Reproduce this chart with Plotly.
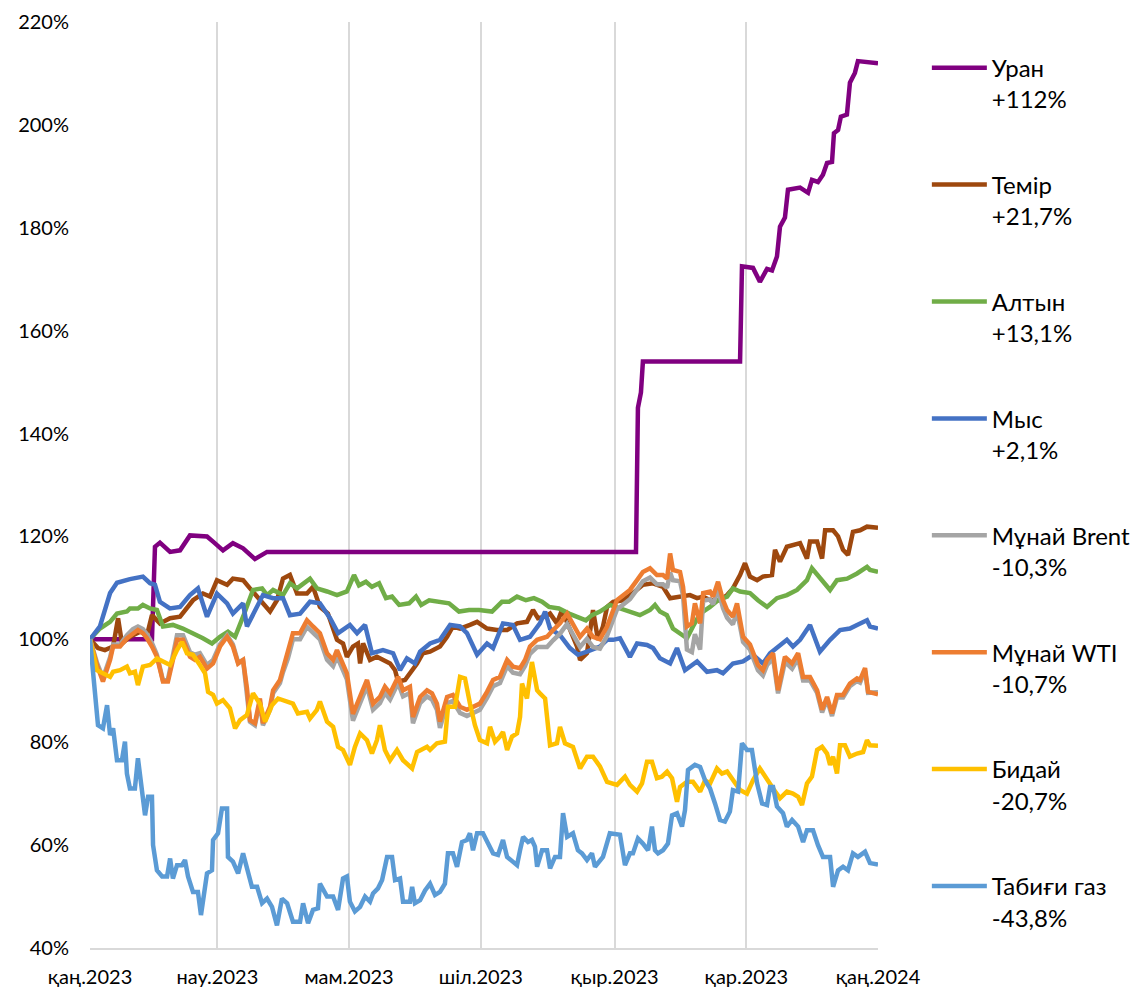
import pandas as pd
import plotly.graph_objects as go

# ---- data: (days since 2023-01-01, index %) ----
uranium = [(0, 100), (28.7, 100), (30.1, 118), (32.4, 118.8), (37.1, 117), (41.7, 117.3), (46.3, 120.2),
           (54.2, 120), (57.0, 119), (61.6, 117.3), (66.2, 118.7), (70.9, 117.7), (76.4, 115.6), (82.0, 117),
           (252.9, 117), (253.8, 145), (255.2, 148), (256.1, 154), (301.1, 154), (302.0, 172.5), (307.1, 172.2),
           (310.3, 169.5), (313.6, 172), (315.9, 171.7), (318.2, 174.4), (319.6, 180.2), (321.9, 182),
           (323.3, 187.4), (328.9, 187.8), (332.6, 186.8), (334.4, 189.3), (337.2, 188.9), (339.5, 190.3),
           (341.4, 192.6), (343.7, 192.8), (344.6, 198.4), (346.5, 199), (347.8, 201.6), (350.6, 202),
           (352.0, 208.2), (354.3, 210.1), (355.7, 212.4), (365.0, 212)]

iron = [(0, 100), (3.7, 98.3), (6.9, 97.9), (10.7, 98.6), (13.0, 104.1), (14.8, 99.2), (18.5, 100.5),
        (23.2, 101.5), (26.4, 100.8), (28.7, 104.7), (32.4, 103.1), (37.1, 104.1), (41.7, 104.4), (44.9, 106.3),
        (47.7, 107.6), (52.3, 108.9), (55.6, 108.3), (58.8, 111.5), (63.5, 110.6), (66.2, 111.8), (70.9, 111.5),
        (74.1, 109.9), (77.4, 108.3), (80.1, 107), (83.4, 105.4), (86.6, 107.6), (89.4, 111.8), (92.6, 112.5),
        (95.9, 108.9), (100.5, 108.9), (103.3, 110.2), (106.5, 106.3), (110.2, 105), (114.4, 99.9),
        (117.2, 99.2), (119.0, 96.6), (121.8, 98.6), (124.1, 99.2), (125.1, 95.3), (126.5, 99.2), (129.7, 96),
        (132.9, 96.6), (135.7, 96), (139.0, 95.3), (141.3, 94), (142.7, 91.8), (145.9, 92.1), (149.2, 94),
        (151.5, 95.3), (154.2, 97.3), (157.5, 97.6), (162.1, 98.6), (165.4, 100.5), (168.1, 102.5),
        (171.4, 102.1), (176.0, 102.8), (179.3, 103.4), (183.9, 102.1), (188.5, 101.8), (193.2, 101.8),
        (197.8, 103.1), (202.4, 103.4), (205.2, 105.7), (207.5, 104.1), (210.8, 104.4), (213.1, 105),
        (216.3, 103.1), (218.6, 105.7), (222.3, 102.1), (225.6, 98.6), (227.0, 96), (230.2, 97.3),
        (233.0, 105.7), (235.3, 99.9), (237.6, 102.5), (239.5, 106.3), (242.3, 107.3), (246.9, 107.6),
        (251.5, 109), (256.1, 110.6), (260.8, 110.9), (265.4, 110.2), (268.7, 108), (273.3, 108.3),
        (277.9, 108.6), (281.2, 108), (284.0, 108.3), (287.2, 107.6), (291.8, 107.6), (295.1, 108.6),
        (297.8, 109.9), (301.1, 112.5), (303.4, 114.8), (305.7, 112.2), (309.0, 111.5), (311.7, 112.2),
        (315.9, 112.5), (317.3, 117.4), (319.6, 115.1), (322.8, 118), (325.6, 118.3), (328.9, 118.7),
        (332.1, 115.7), (333.5, 119), (336.8, 119), (339.1, 115.7), (340.5, 121.2), (344.2, 121.2),
        (346.5, 120), (348.8, 117.4), (351.1, 116.4), (353.4, 120.9), (356.7, 121.2), (359.9, 121.9),
        (365.0, 121.7)]

gold = [(0, 100), (4.6, 102.1), (9.3, 103.4), (12.5, 105), (17.1, 105.4), (18.5, 106), (22.2, 106), (24.5, 106.7),
        (27.8, 106), (31, 105.7), (33.8, 102.5), (38.4, 102.8), (43, 102.1), (47.7, 101.2), (52.3, 100.2),
        (56.5, 99.2), (60.2, 100.5), (63.9, 101.5), (67.2, 100.5), (70.9, 104.4), (75.5, 109.6), (79.7, 109.9),
        (82, 108.6), (84.8, 109.6), (89.4, 108.6), (92.6, 110.9), (95.9, 109.9), (101.9, 111.8), (105.1, 109.9),
        (109.8, 109.3), (114.4, 108.6), (119, 109.3), (122.3, 112.5), (124.6, 110.5), (127.8, 111.2),
        (130.6, 110.2), (133.9, 110.9), (137.1, 108), (139.9, 108.3), (143.2, 106.7), (147.8, 107),
        (151, 108.3), (153.4, 106.7), (157.1, 107.6), (161.7, 107.3), (166.3, 107), (170.9, 105.4),
        (175.6, 105.7), (180.2, 105.7), (186.2, 105.4), (190.8, 107.3), (194.1, 107.3), (197.8, 108.3),
        (201.9, 107.6), (205.6, 108), (209.4, 107.3), (212.6, 106.3), (217.2, 106), (221.9, 105),
        (226.5, 104.1), (229.7, 103.7), (232.5, 104.7), (236.2, 105.4), (240.8, 106.7), (245.5, 106),
        (250.1, 105.4), (254.7, 104.7), (259.4, 105.7), (261.7, 106.7), (264, 105.4), (267.2, 104.7),
        (270, 102.1), (273.3, 101.2), (276.5, 100.2), (279.3, 102.5), (282.6, 105), (287.2, 106.3),
        (290.9, 107.6), (295.1, 108.3), (297.8, 109.9), (301.1, 109.3), (305.7, 109), (309.4, 107.6),
        (313.6, 106.3), (318.2, 108), (322.8, 108.6), (327.5, 109.6), (332.1, 111.5), (334.4, 113.8),
        (338.1, 111.8), (342.8, 109.6), (346, 111.5), (350.7, 111.8), (355.3, 112.8), (359.9, 114.1),
        (361.3, 113.5), (365, 113.1)]

copper = [(0, 100), (4.6, 102.5), (9.3, 109), (12.5, 111), (18.5, 111.7), (24.5, 112.2), (27.8, 110.9),
          (30.1, 110.6), (32.4, 107.3), (37, 106), (41.7, 106.3), (46.3, 108.6), (50, 109.9), (54.2, 104.4),
          (58.8, 108.9), (63.5, 107), (66.2, 105), (70.9, 107), (72.7, 102.5), (75.5, 104.7), (80.1, 108.6),
          (84.8, 108), (89.4, 108), (92.6, 104.7), (97.3, 105), (101.9, 107.3), (106.5, 107), (111.2, 104.1),
          (114.9, 101.2), (120.4, 102.8), (123.7, 101.2), (127.4, 102.8), (130.6, 97.3), (135.7, 97.9),
          (140.4, 97.3), (143.6, 94), (146.8, 96.3), (150.5, 95.3), (152.9, 97.6), (157.5, 99.2),
          (162.1, 99.9), (166.8, 102.8), (171.4, 102.5), (174.6, 101.2), (179.3, 97), (183.9, 99.2),
          (186.7, 98.3), (191.3, 103.1), (195.9, 102.8), (199.2, 99.9), (203.8, 100.5), (208.4, 103.1),
          (210.8, 105.4), (213.1, 102.1), (217.7, 100.8), (222.3, 98.3), (226, 97), (230.2, 97.6),
          (236.2, 98.6), (239.5, 99.9), (242.3, 99.9), (245.5, 100.2), (250.1, 96.6), (253.4, 99.2),
          (258, 98.9), (260.8, 98.3), (264, 96.3), (268.7, 95.3), (271.9, 98.3), (275.6, 94), (281.2, 95.7),
          (285.8, 93.7), (290.4, 94), (293.2, 93.4), (297.8, 95.3), (302.5, 95.7), (307.1, 97), (311.7, 95.3),
          (315, 97.3), (322.8, 99.9), (325.6, 98.6), (328.9, 99.9), (333.5, 102.8), (338.1, 97.6),
          (342.8, 99.9), (347.4, 101.8), (352, 102.1), (355.3, 102.8), (359.9, 103.7), (361.3, 102.5),
          (365, 102.1)]

brent = [(0, 100), (3.2, 95.5), (6.0, 92.5), (9.3, 96.5), (10.7, 99), (13.9, 99), (17.1, 100.8), (19.9, 102),
         (22.2, 102.5), (24.5, 102), (26.4, 101), (28.7, 99.3), (31.0, 97), (33.8, 92), (36.1, 92.2),
         (38.4, 96.8), (40.3, 100.8), (43.1, 100.8), (46.3, 97.5), (48.6, 97), (50.9, 97.3), (54.2, 95),
         (57.0, 96), (60.2, 99), (63.5, 100.8), (66.2, 99), (68.6, 95.5), (70.9, 96), (72.7, 90), (74.1, 84),
         (76.4, 83.3), (78.7, 87.8), (80.1, 83.3), (83.4, 86.3), (84.8, 89.5), (88.0, 91.5), (89.4, 93.6),
         (91.7, 96.3), (94.0, 100), (97.3, 100), (100.5, 102.4), (103.3, 101.3), (106.5, 100), (109.8, 96),
         (112.6, 94.8), (114.4, 96.7), (117.2, 94), (119.0, 92.2), (121.8, 84.2), (125.1, 87.5),
         (128.3, 90.9), (131.1, 86.3), (134.3, 87.6), (136.6, 89.6), (139.0, 88.3), (142.7, 91.5),
         (145.0, 88.9), (148.2, 89.6), (149.6, 83.7), (152.9, 87.6), (156.1, 88.9), (158.4, 88.3),
         (160.7, 86.3), (162.1, 82.8), (165.4, 87.6), (168.1, 88), (171.4, 85.7), (174.6, 85.1),
         (177.4, 85.7), (180.6, 86.3), (183.9, 88.6), (186.7, 90.9), (189.9, 91.5), (193.2, 94.8),
         (195.9, 93.5), (199.2, 93.2), (201.5, 94.8), (203.8, 97.2), (207.1, 98.5), (211.7, 98.5),
         (214.5, 99.8), (217.7, 101.1), (221.0, 103), (223.7, 101.1), (227.0, 98.5), (230.2, 100.1),
         (233.0, 98.5), (236.2, 98.2), (239.5, 100.7), (244.1, 105.8), (246.9, 106.8), (250.1, 107.8),
         (253.4, 109.7), (256.1, 111.3), (259.4, 112), (262.6, 110.7), (265.4, 110.7), (267.3, 110),
         (268.7, 113), (270.0, 111.5), (273.3, 111.3), (274.7, 108.5), (276.5, 98), (278.8, 97.5),
         (280.2, 101), (282.6, 98), (284.0, 107.5), (287.2, 107.8), (288.6, 106.8), (290.9, 109.7),
         (293.2, 106.1), (295.1, 104.2), (297.8, 102.9), (299.7, 105.5), (302.5, 99.5), (305.7, 98),
         (309.4, 94), (311.7, 93), (313.6, 95), (316.4, 96.3), (318.7, 89.5), (321.9, 95.6), (325.2, 94.3),
         (328.0, 96.3), (330.3, 92), (333.5, 92), (336.8, 89.6), (339.1, 85.8), (341.4, 88.3), (343.7, 85.1),
         (346.0, 88.7), (348.8, 88.7), (352.0, 90.9), (355.3, 91.9), (356.7, 91.6), (359.0, 93.9),
         (360.4, 89.6), (365.0, 89.7)]

wti = [(0, 100), (3.2, 95), (6.0, 91.8), (9.3, 96), (10.7, 98.6), (13.9, 98.6), (17.1, 100.2), (19.9, 101.2),
       (22.2, 101.8), (24.5, 101.2), (26.4, 100.2), (28.7, 98.6), (31.0, 96.6), (33.8, 91.8), (36.1, 91.8),
       (38.4, 96), (40.3, 99.9), (43.1, 99.9), (46.3, 96.6), (48.6, 96), (50.9, 96.6), (54.2, 94.3),
       (57.0, 95.3), (60.2, 98.6), (63.5, 100.5), (66.2, 98.6), (68.6, 95.3), (70.9, 96), (72.7, 90.5),
       (74.1, 84.3), (76.4, 83.7), (78.7, 88.5), (80.1, 83.7), (83.4, 86.9), (84.8, 90.1), (88.0, 92.1),
       (89.4, 94.4), (91.7, 97.3), (94.0, 101.2), (97.3, 101.2), (100.5, 103.7), (103.3, 102.5),
       (106.5, 101.2), (109.8, 97.3), (112.6, 96), (114.4, 97.9), (117.2, 95.3), (119.0, 93.4),
       (121.8, 85.5), (125.1, 88.8), (128.3, 92.1), (131.1, 87.5), (134.3, 88.8), (136.6, 90.8),
       (139.0, 89.5), (142.7, 92.7), (145.0, 90.1), (148.2, 90.8), (149.6, 84.9), (152.9, 88.8),
       (156.1, 90.1), (158.4, 89.5), (160.7, 87.5), (162.1, 84), (165.4, 88.8), (168.1, 89.2),
       (171.4, 86.9), (174.6, 86.3), (177.4, 86.9), (180.6, 87.5), (183.9, 89.8), (186.7, 92.1),
       (189.9, 92.7), (193.2, 96), (195.9, 94.7), (199.2, 94.4), (201.5, 96), (203.8, 98.6), (207.1, 99.9),
       (211.7, 100.5), (214.5, 101.8), (217.7, 103.1), (221.0, 105), (223.7, 103.1), (227.0, 100.5),
       (230.2, 102.1), (233.0, 100.5), (236.2, 100), (239.5, 102.5), (244.1, 107.6), (246.9, 108.6),
       (250.1, 109.6), (253.4, 111.5), (256.1, 113.1), (259.4, 113.8), (262.6, 112.5), (265.4, 112.5),
       (267.3, 111.8), (268.7, 116.7), (270.0, 113.5), (273.3, 113.1), (274.7, 110.2), (276.5, 102.5),
       (278.8, 103.1), (280.2, 107), (282.6, 103.1), (284.0, 109), (287.2, 109.3), (288.6, 108.3),
       (290.9, 111.2), (293.2, 107.6), (295.1, 105.7), (297.8, 104.4), (299.7, 107), (302.5, 100.5),
       (305.7, 99), (309.4, 95), (311.7, 94), (313.6, 96), (316.4, 97.3), (318.7, 90.1), (321.9, 96.6),
       (325.2, 95.3), (328.0, 97.3), (330.3, 92.7), (333.5, 92.7), (336.8, 90.1), (339.1, 86.3),
       (341.4, 88.8), (343.7, 85.6), (346.0, 89.2), (348.8, 89.2), (352.0, 91.4), (355.3, 92.4),
       (356.7, 92.1), (359.0, 94.4), (360.4, 89.8), (365.0, 89.3)]

wheat = [(0, 100), (3.2, 94), (6.0, 93.4), (9.3, 92.7), (10.7, 93.7), (13.9, 94), (17.1, 94.7), (18.5, 93.4),
         (20.8, 93.7), (22.2, 91.1), (24.5, 94.7), (27.8, 95), (31.0, 96.3), (33.8, 95.6), (37.1, 95),
         (40.3, 97.9), (42.6, 99.5), (44.9, 97.3), (47.7, 97), (50.9, 95), (53.3, 93.4), (54.7, 89.8),
         (57.0, 89.2), (58.8, 87.5), (61.6, 88.2), (64.8, 86.6), (67.2, 82.7), (69.5, 84.3), (72.7, 85.3),
         (75.5, 89.5), (78.7, 87.5), (81.1, 84), (84.3, 87.2), (87.1, 88.5), (91.3, 87.9), (94.0, 87.5),
         (96.3, 85.6), (100.5, 85.9), (101.9, 84.6), (105.1, 86.3), (106.5, 87.9), (109.8, 84), (112.6, 83),
         (114.9, 79.1), (117.2, 78.5), (120.4, 75.6), (122.7, 79.1), (125.1, 81.7), (128.3, 80.4),
         (130.6, 77.8), (132.9, 80.4), (134.3, 83.3), (136.6, 78.5), (139.0, 76.5), (142.2, 78.5),
         (145.0, 76.5), (149.2, 74.9), (151.5, 78.1), (156.1, 79.1), (157.5, 78.5), (160.7, 79.8),
         (164.4, 80.1), (165.8, 86.9), (169.1, 86.9), (171.4, 92.7), (173.7, 92.4), (176.0, 87.5),
         (178.3, 83.3), (180.6, 80.4), (183.9, 79.8), (185.3, 83), (187.6, 80.1), (189.9, 81.1), (191.3, 82),
         (193.2, 78.5), (195.5, 81.1), (197.8, 81.7), (199.2, 84.9), (200.1, 91.4), (202.4, 88.5),
         (204.7, 95.6), (207.1, 90.1), (208.4, 89.5), (210.8, 88.5), (213.1, 79.4), (216.3, 79.8),
         (217.7, 83), (220.0, 79.8), (223.7, 79.1), (227.0, 74.9), (230.2, 77.2), (233.0, 77.2),
         (236.2, 75.3), (239.5, 72.3), (244.1, 71.7), (247.8, 73.3), (250.1, 71.7), (253.4, 70.4),
         (255.7, 72), (258.0, 76.2), (260.3, 76.2), (262.6, 73), (264.9, 73.3), (267.3, 74.3), (269.6, 73),
         (271.9, 68.4), (273.3, 71.3), (276.5, 72.3), (279.3, 72.3), (282.6, 70.4), (284.9, 72.6),
         (287.2, 72), (290.4, 74.9), (292.7, 73.9), (295.1, 74.3), (297.8, 72.6), (301.1, 70.7),
         (304.3, 70), (307.1, 72.6), (310.3, 74.9), (313.6, 72.6), (316.4, 71), (319.6, 69.1),
         (322.8, 70.4), (325.6, 70), (328.0, 69.4), (329.8, 67.8), (332.1, 72), (334.4, 73.3),
         (336.8, 78.5), (339.1, 79.1), (341.4, 77.8), (342.8, 75.6), (344.2, 77.2), (346.0, 73.9),
         (347.4, 79.4), (349.7, 79.4), (352.0, 77.2), (355.3, 77.8), (358.1, 78.1), (359.9, 80.4),
         (361.3, 79.4), (365.0, 79.3)]

gas = [(0, 100), (1.4, 93.4), (2.3, 89.2), (3.7, 83.3), (6.0, 82.7), (7.9, 87.2), (9.3, 81.4), (10.7, 82.7),
       (12.5, 76.5), (14.8, 76.5), (16.2, 80.1), (17.1, 73.9), (18.5, 71), (20.8, 71), (22.2, 76.9), (24.1, 70),
       (25.5, 65.8), (26.9, 69.4), (28.7, 69.4), (29.2, 60), (31.0, 55.1), (33.4, 53.9), (35.7, 53.9),
       (37.1, 57.4), (38.4, 53.5), (40.3, 56.1), (42.6, 56.1), (44.0, 57.1), (45.4, 53.9), (47.7, 50.9),
       (50.0, 50.9), (51.4, 46.4), (54.2, 54.5), (56.5, 55.1), (57.0, 61), (59.3, 62.3), (61.1, 67.1),
       (63.5, 67.1), (63.9, 57.7), (66.2, 56.8), (68.6, 54.5), (70.9, 58.4), (73.2, 54.5), (75.0, 51.9),
       (77.4, 51.9), (79.7, 48.7), (82.0, 49.6), (84.3, 48), (86.6, 44.4), (88.9, 49.6), (91.3, 48.7),
       (92.6, 46.7), (94.0, 45.1), (97.3, 45.1), (98.7, 48.7), (101.0, 44.8), (103.3, 47.4), (105.6, 47.7),
       (106.5, 52.5), (109.8, 50), (112.6, 50), (114.9, 47.4), (117.2, 53.5), (119.0, 53.9), (120.4, 49),
       (122.7, 47.1), (125.1, 48), (127.4, 50), (129.7, 49), (131.1, 50.6), (133.4, 51.6), (135.3, 53.2),
       (137.6, 57.7), (139.9, 57.7), (141.3, 53.2), (143.6, 53.5), (145.0, 49), (148.2, 49), (149.2, 51.9),
       (150.5, 48.7), (152.9, 49.3), (155.2, 51.2), (157.5, 52.5), (159.8, 50.3), (162.1, 50.9),
       (164.4, 52.5), (165.8, 58.4), (168.1, 58.4), (170.0, 55.8), (172.3, 60.6), (174.6, 61), (176.0, 62.3),
       (177.4, 59), (179.3, 62.3), (182.0, 62.3), (184.4, 60.3), (186.7, 58.4), (189.0, 58.1), (191.3, 61),
       (193.2, 57.7), (195.9, 56.8), (197.8, 56.1), (199.2, 59), (200.6, 61.6), (202.9, 60.6), (204.7, 61),
       (206.1, 59.7), (207.1, 55.8), (209.4, 59), (211.7, 59), (213.1, 55.5), (215.4, 57.7), (217.7, 57.7),
       (219.1, 66.2), (221.0, 61.6), (223.7, 62.3), (226.0, 59), (227.9, 58.4), (230.2, 57.1), (232.5, 58.4),
       (233.9, 55.8), (236.2, 56.8), (237.6, 57.7), (240.8, 62.3), (245.5, 62), (247.8, 56.1), (250.1, 58.4),
       (251.5, 58.4), (253.8, 61.3), (256.1, 60.3), (258.5, 59), (260.3, 63.6), (261.7, 59), (263.1, 58.4),
       (265.4, 59), (267.7, 60.3), (269.6, 65.8), (271.9, 66.2), (274.2, 63.6), (275.6, 66.8), (277.0, 74.6),
       (280.2, 75.6), (282.6, 75.2), (284.9, 72.6), (287.2, 71), (289.5, 68.1), (291.8, 64.9), (294.1, 64.6),
       (296.4, 66.5), (297.8, 70.7), (300.2, 70.4), (302.0, 79.8), (304.3, 78.5), (306.6, 78.5), (309.0, 72),
       (311.3, 68.1), (313.6, 67.8), (315.0, 71.3), (316.4, 71.3), (318.2, 67.5), (321.0, 66.2),
       (322.8, 63.6), (325.2, 64.9), (328.0, 63.6), (330.3, 60.6), (332.1, 62.9), (334.9, 62.9), (337.2, 60),
       (339.5, 57.7), (342.8, 57.7), (344.2, 51.9), (346.5, 55.1), (348.8, 55.8), (351.1, 55.1),
       (353.4, 58.4), (355.7, 57.7), (359.0, 58.7), (361.3, 56.5), (365.0, 56.2)]

series_names = ["Уран", "Темір", "Алтын", "Мыс", "Мұнай Brent", "Мұнай WTI", "Бидай", "Табиғи газ"]
series_changes = ["+112%", "+21,7%", "+13,1%", "+2,1%", "-10,3%", "-10,7%", "-20,7%", "-43,8%"]
series_data = [uranium, iron, gold, copper, brent, wti, wheat, gas]

tick_dates = ["2023-01-01", "2023-03-01", "2023-05-01", "2023-07-01", "2023-09-01", "2023-11-01", "2024-01-01"]
tick_labels = ["қаң.2023", "нау.2023", "мам.2023", "шіл.2023", "қыр.2023", "қар.2023", "қаң.2024"]
y_ticks = [40, 60, 80, 100, 120, 140, 160, 180, 200, 220]
y_tick_labels = ["40%", "60%", "80%", "100%", "120%", "140%", "160%", "180%", "200%", "220%"]

# ---- styles ----
colors = ["#800080", "#9E480E", "#70AD47", "#4472C4", "#A5A5A5", "#ED7D31", "#FFC000", "#5B9BD5"]
FONT = "Lato, 'Open Sans', sans-serif"
start = pd.Timestamp("2023-01-01")

fig = go.Figure()
for i, (name, chg, pts) in enumerate(zip(series_names, series_changes, series_data)):
    days = [p[0] for p in pts]
    vals = [p[1] for p in pts]
    xs = start + pd.to_timedelta(days, unit="D")
    fig.add_trace(go.Scatter(
        x=xs, y=vals, mode="lines", name=f"{name}<br>{chg}",
        legendgroup=f"g{i}",
        line=dict(color=colors[i], width=4.5, shape="linear"),
        hoverinfo="skip",
    ))

# the page body adds an 8px offset, so the figure is 8px smaller than the window
fig.update_layout(
    width=1132, height=982, autosize=False,
    margin=dict(l=82, r=262, t=14, b=42, autoexpand=False),
    paper_bgcolor="white", plot_bgcolor="white",
    font=dict(family=FONT, color="#000000"),
    showlegend=True,
    legend=dict(
        x=1.062, xanchor="left", y=0.9745, yanchor="top",
        valign="top", font=dict(family=FONT, size=24, color="#000000"),
        itemwidth=55, tracegroupgap=51.5, bgcolor="rgba(0,0,0,0)",
        traceorder="grouped",
    ),
    xaxis=dict(
        type="date", range=["2023-01-01", "2024-01-01"], automargin=False,
        tickmode="array", tickvals=tick_dates, ticktext=tick_labels,
        showgrid=True, gridcolor="#D9D9D9", gridwidth=2,
        showline=True, linecolor="#D9D9D9", linewidth=2,
        zeroline=False, ticks="", ticklabelstandoff=10,
        tickfont=dict(family=FONT, size=20, color="#000000"),
    ),
    yaxis=dict(
        range=[40, 220], automargin=False,
        tickmode="array", tickvals=y_ticks, ticktext=y_tick_labels,
        showgrid=False, zeroline=False, showline=False, ticks="",
        ticklabelstandoff=20,
        tickfont=dict(family=FONT, size=20, color="#000000"),
    ),
)

fig.write_html("out.html")
